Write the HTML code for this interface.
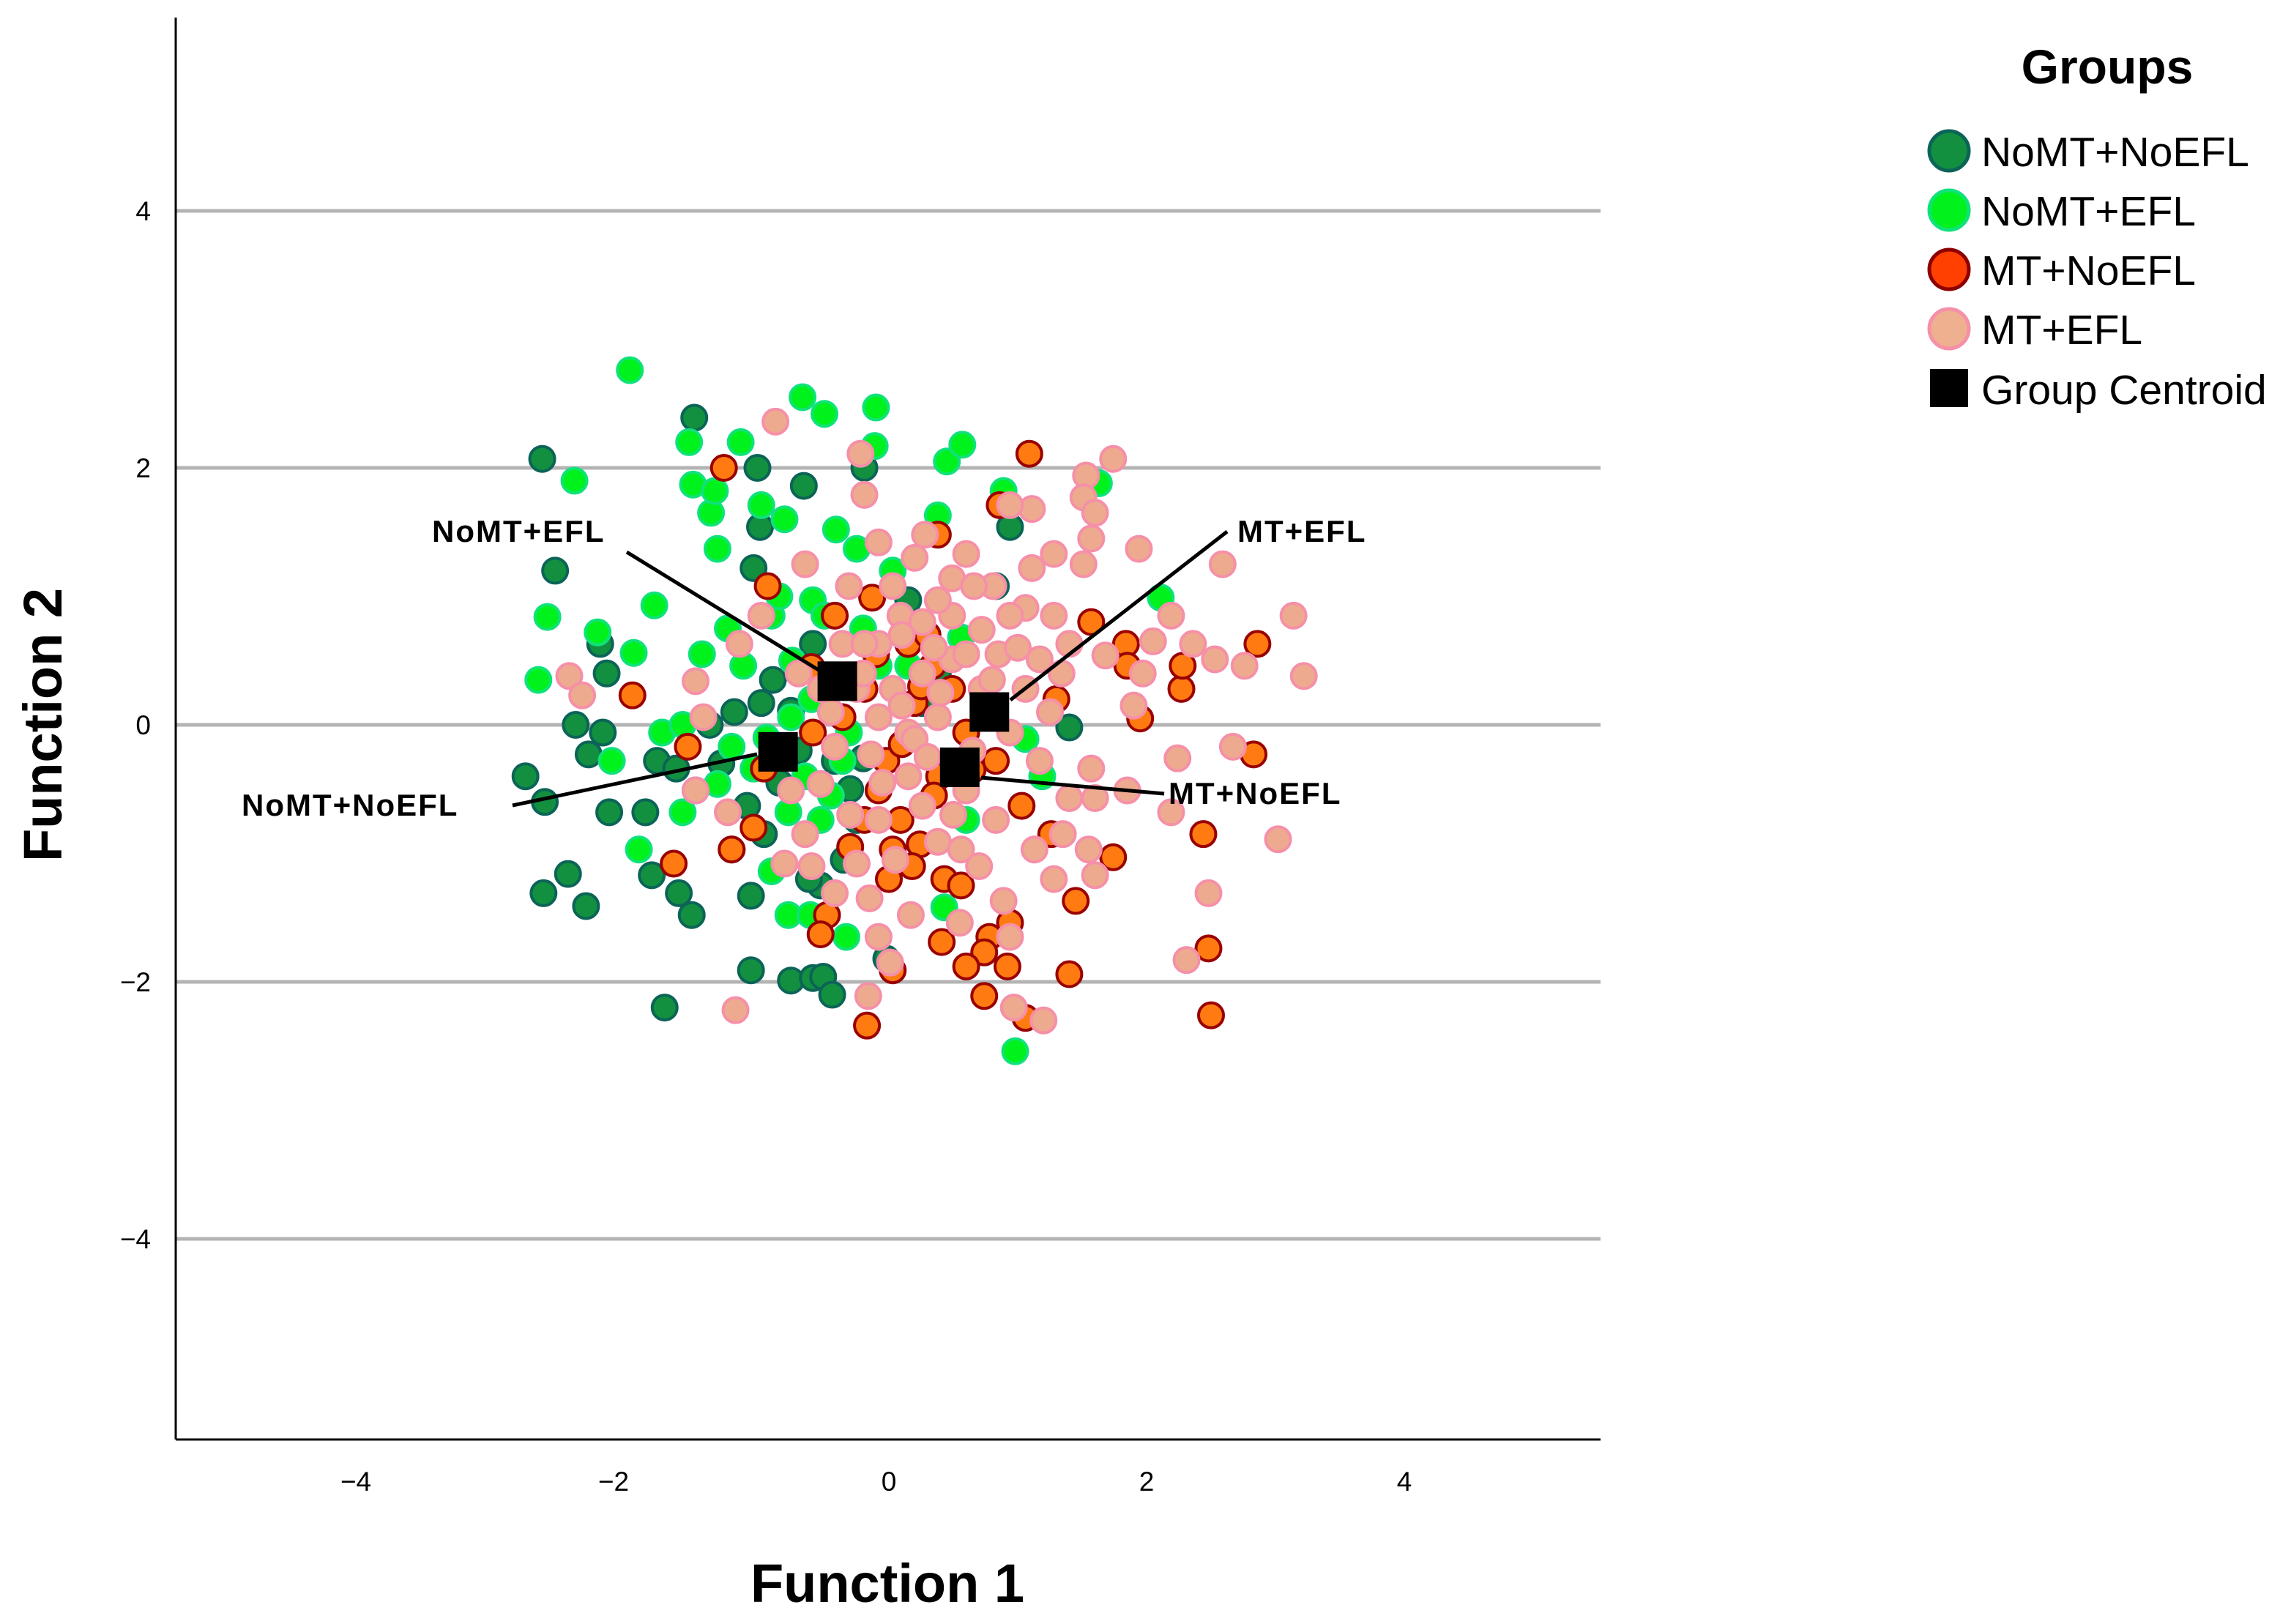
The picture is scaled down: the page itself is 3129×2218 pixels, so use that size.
<!DOCTYPE html>
<html><head><meta charset="utf-8"><style>
html,body{margin:0;padding:0;background:#fff;}
svg{display:block;}
text{font-family:"Liberation Sans",sans-serif;}
</style></head><body>
<svg id="chart" width="3129" height="2218" viewBox="0 0 3129 2218" xmlns="http://www.w3.org/2000/svg">
<g id="grid"></g>
<g id="axes">
<line x1="240" y1="24" x2="240" y2="1966" stroke="#000" stroke-width="3"/>
<line x1="240" y1="1966" x2="2186" y2="1966" stroke="#000" stroke-width="3"/>
</g>
<g id="ticks"></g>
<g id="points"></g>
<g id="annot">
<line x1="856" y1="754" x2="1126" y2="920" stroke="#000" stroke-width="5"/>
<line x1="1676" y1="726" x2="1380" y2="956" stroke="#000" stroke-width="5"/>
<line x1="700" y1="1100" x2="1034" y2="1030" stroke="#000" stroke-width="5"/>
<line x1="1340" y1="1062" x2="1590" y2="1084" stroke="#000" stroke-width="5"/>
</g>
<g id="centroids"></g>
<g font-weight="bold" font-size="42" letter-spacing="2">
<text x="590" y="740">NoMT+EFL</text>
<text x="1690" y="740">MT+EFL</text>
<text x="330" y="1114">NoMT+NoEFL</text>
<text x="1596" y="1098">MT+NoEFL</text>
</g>
<text x="1212" y="2188" font-size="74" font-weight="bold" text-anchor="middle">Function 1</text>
<text x="0" y="0" font-size="74" font-weight="bold" text-anchor="middle" transform="translate(84,990) rotate(-90)">Function 2</text>
<g>
<text x="2878" y="114" font-size="66" font-weight="bold" text-anchor="middle">Groups</text>
<g><circle cx="2662" cy="206" r="27" fill="#12903f" stroke="#0b6457" stroke-width="5"/><text x="2706" y="227" font-size="57">NoMT+NoEFL</text></g>
<g><circle cx="2662" cy="287" r="27" fill="#00f21c" stroke="#10e27a" stroke-width="5"/><text x="2706" y="308" font-size="57">NoMT+EFL</text></g>
<g><circle cx="2662" cy="368" r="27" fill="#ff4000" stroke="#8c0000" stroke-width="5"/><text x="2706" y="389" font-size="57">MT+NoEFL</text></g>
<g><circle cx="2662" cy="449" r="27" fill="#eeb08e" stroke="#f590a8" stroke-width="5"/><text x="2706" y="470" font-size="57">MT+EFL</text></g>
<g><rect x="2636" y="504" width="52" height="52" fill="#000"/><text x="2706" y="552" font-size="57">Group Centroid</text></g>
</g>
</svg>
<script>
const yTicks = [4, 2, 0, -2, -4];
const xTicks = [-4, -2, 0, 2, 4];
const groupNames = ["NoMT+NoEFL", "NoMT+EFL", "MT+NoEFL", "MT+EFL"];
const g1 = [[-2.69,2.07],[-2.59,1.2],[-1.51,2.39],[-1.02,2.0],[-0.66,1.86],[-0.19,2.0],[-1.0,1.54],[-1.05,1.22],[-2.24,0.63],[-2.19,0.4],[-2.43,0],[-2.33,-0.23],[-2.22,-0.06],[-2.82,-0.4],[-2.67,-0.6],[-2.17,-0.68],[-1.89,-0.68],[-1.8,-0.28],[-1.65,-0.34],[-2.68,-1.31],[-2.49,-1.16],[-2.35,-1.41],[-1.84,-1.17],[-1.63,-1.31],[-1.53,-1.48],[-1.74,-2.2],[-1.22,-0.97],[-1.07,-1.33],[-1.07,-1.91],[-0.76,-1.99],[-0.59,-1.97],[-0.51,-1.96],[-0.44,-2.1],[-0.02,-1.82],[-0.53,-1.25],[-0.97,-0.85],[-0.99,0.17],[-0.76,0.11],[-0.59,0.63],[-1.39,0],[0.94,1.54],[1.4,-0.02],[0.26,0.17],[-0.2,-0.26],[0.38,0.4],[-0.42,-0.28],[-0.25,-0.74],[-1.5,-0.51],[-1.1,-0.63],[0.15,0.97],[0.83,1.08],[-1.3,-0.3],[-1.2,0.1],[-0.85,-0.45],[-0.7,-0.2],[-0.9,0.35],[-0.3,-0.5],[-0.62,-1.2],[-0.35,-1.05]];
const g2 = [[-2.01,2.76],[-2.44,1.9],[-2.65,0.84],[-2.72,0.35],[-2.26,0.72],[-1.98,0.56],[-1.82,0.93],[-1.55,2.2],[-1.52,1.87],[-1.38,1.65],[-1.35,1.82],[-1.33,1.37],[-1.15,2.2],[-0.99,1.71],[-0.81,1.6],[-0.91,0.85],[-0.67,2.55],[-0.5,2.42],[-0.1,2.47],[-0.11,2.17],[0.45,2.05],[0.57,2.18],[0.38,1.63],[0.89,1.82],[1.63,1.88],[2.11,0.99],[-0.41,1.52],[-0.25,1.37],[0.03,1.2],[-2.15,-0.28],[-1.76,-0.06],[-1.94,-0.97],[-1.6,-0.68],[-1.33,-0.46],[-1.22,-0.17],[-1.05,-0.34],[-0.76,0.06],[-0.78,-0.68],[-0.91,-1.14],[-0.78,-1.48],[-0.61,-1.48],[-0.33,-1.65],[0.43,-1.42],[0.6,-0.74],[0.98,-2.54],[1.19,-0.4],[0.15,0.46],[-0.31,-0.06],[-0.08,0.46],[0.56,0.68],[1.06,-0.11],[-0.53,-0.74],[-1.13,0.46],[-0.59,0.97],[-0.36,-0.28],[-1.45,0.55],[-1.25,0.75],[-0.75,0.5],[-0.6,0.2],[-0.95,-0.1],[-0.65,-0.4],[-0.45,-0.55],[-0.2,0.75],[-1.6,0.0],[-0.85,1.0],[-0.5,0.85]];
const g3 = [[-1.28,2.0],[1.09,2.11],[0.86,1.71],[-0.94,1.08],[-1.99,0.23],[-1.56,-0.17],[-1.67,-1.08],[-1.22,-0.97],[-1.05,-0.8],[-0.97,-0.34],[-0.42,0.85],[-0.13,0.99],[0.38,1.48],[0.15,0.63],[0.34,0.46],[1.57,0.8],[1.84,0.63],[1.85,0.46],[2.27,0.28],[2.28,0.46],[2.86,0.63],[2.83,-0.23],[2.44,-0.85],[2.48,-1.74],[2.5,-2.26],[1.74,-1.03],[1.45,-1.37],[1.26,-0.85],[1.03,-0.63],[0.83,-0.28],[0.94,-1.54],[0.78,-1.65],[0.74,-1.77],[0.6,-1.88],[0.74,-2.11],[0.92,-1.88],[1.06,-2.28],[1.4,-1.94],[0.41,-1.69],[0.03,-1.91],[-0.17,-2.34],[-0.48,-1.48],[-0.53,-1.63],[0,-1.2],[0.24,-0.93],[0.09,-0.74],[-0.08,-0.51],[0.43,-1.2],[0.56,-1.25],[0.39,-0.4],[0.6,-0.06],[-0.59,-0.06],[-0.36,0.06],[-0.19,0.28],[0.2,0.17],[0.49,0.28],[-0.19,-0.74],[0.03,-0.97],[-0.02,-0.28],[-0.35,0.35],[-0.1,0.55],[0.25,0.3],[0.1,-0.15],[0.35,-0.55],[0.65,-0.35],[-0.3,-0.95],[0.18,-1.1],[0.3,0.7],[-0.6,0.45],[1.3,0.2],[1.95,0.05]];
const g4 = [[-0.88,2.36],[-0.22,2.11],[1.74,2.07],[1.53,1.94],[1.51,1.77],[1.6,1.65],[1.11,1.68],[0.94,1.71],[1.57,1.45],[1.51,1.25],[1.28,1.33],[1.11,1.22],[1.94,1.37],[2.59,1.25],[-0.19,1.79],[-0.08,1.42],[0.28,1.48],[0.6,1.33],[0.81,1.08],[0.49,1.14],[1.06,0.91],[1.28,0.85],[1.4,0.63],[1.68,0.54],[1.97,0.4],[2.19,0.85],[2.36,0.63],[2.53,0.51],[2.76,0.46],[3.14,0.85],[3.22,0.38],[2.67,-0.17],[2.24,-0.26],[2.19,-0.68],[1.85,-0.51],[1.57,-0.34],[1.6,-0.57],[1.55,-0.97],[1.6,-1.17],[1.28,-1.2],[1.13,-0.97],[0.89,-1.37],[0.94,-1.65],[0.97,-2.2],[1.2,-2.3],[2.48,-1.31],[2.31,-1.83],[3.02,-0.89],[0.38,-0.91],[0.56,-0.97],[0.17,-1.48],[-0.08,-1.65],[0.01,-1.85],[-0.16,-2.11],[-1.19,-2.22],[-0.53,-0.46],[-0.65,-0.85],[-0.81,-1.08],[-1.25,-0.68],[-1.5,-0.51],[-2.48,0.38],[-2.38,0.23],[-1.5,0.34],[-1.44,0.06],[-1.16,0.63],[-0.99,0.85],[-0.65,1.25],[-0.31,1.08],[-0.36,0.63],[-0.08,0.63],[0.09,0.85],[0.26,0.8],[0.49,0.85],[0.72,0.74],[0.94,0.85],[1.17,0.51],[1.34,0.4],[1.06,0.28],[0.38,0.06],[0.15,-0.06],[-0.08,0.06],[-0.25,0.28],[0.03,0.28],[0.26,0.4],[0.49,0.51],[0.72,0.28],[0.94,-0.06],[1.17,-0.28],[1.4,-0.57],[0.15,-0.4],[0.26,-0.63],[-0.08,-0.74],[-0.25,-1.08],[-0.42,-0.17],[-0.14,-0.23],[0.2,-0.11],[0.6,-0.51],[0.83,-0.74],[0.55,-1.54],[-0.42,-1.31],[-0.76,-0.51],[-0.19,0.63],[0.03,1.08],[-0.53,0.28],[-0.7,0.4],[0.66,1.08],[0.38,0.97],[-0.2,0.4],[0.1,0.15],[0.4,0.25],[0.6,0.55],[0.85,0.55],[-0.05,-0.45],[0.3,-0.25],[0.5,-0.7],[0.7,-1.1],[-0.3,-0.7],[0.1,0.7],[0.35,0.6],[-0.45,0.1],[0.8,0.35],[1.0,0.6],[1.25,0.1],[0.05,-1.05],[-0.6,-1.1],[0.2,1.3],[1.35,-0.85],[0.65,-0.2],[-0.15,-1.35],[1.9,0.15],[2.05,0.65]];
const centroidX = [-0.86, -0.4, 0.55, 0.78];
const centroidY = [-0.21, 0.34, -0.33, 0.1];

const NS = "http://www.w3.org/2000/svg";
const sx = v => 1214 + v * 176;
const sy = v => 990 - v * 175.5;
function mk(tag, attrs, parent){const e=document.createElementNS(NS,tag);for(const k in attrs)e.setAttribute(k,attrs[k]);parent.appendChild(e);return e;}
const grid=document.getElementById('grid'), ticks=document.getElementById('ticks'), pts=document.getElementById('points'), cents=document.getElementById('centroids');
yTicks.forEach(t=>{
  const l=mk('line',{x1:240,x2:2186,y1:sy(t),y2:sy(t),stroke:'#b4b4b4','stroke-width':5},grid);
  
  
  const tx=mk('text',{x:206,y:sy(t)+13,'font-size':37,'text-anchor':'end'},ticks);
  tx.textContent=t<0?'\u2212'+Math.abs(t):String(t);
  
  
});
xTicks.forEach(t=>{
  const tx=mk('text',{x:sx(t)-(t<0?24:0),y:2036,'font-size':37,'text-anchor':'middle'},ticks);
  tx.textContent=t<0?'\u2212'+Math.abs(t):String(t);
  
  
});
const styles=[['#12903f','#0b6457'],['#00f21c','#10e27a'],['#ff7a10','#9a0000'],['#eeaa8e','#f590a8']];
[g1,g2,g3,g4].forEach((g,i)=>{
  g.forEach(p=>{
    const c=mk('circle',{cx:sx(p[0]),cy:sy(p[1]),r:17,fill:styles[i][0],stroke:styles[i][1],'stroke-width':4},pts);
    
    
  });
});
centroidX.forEach((x,i)=>{
  const r=mk('rect',{x:sx(x)-27,y:sy(centroidY[i])-27,width:54,height:54,fill:'#000'},cents);
  
  
});
</script>
</body></html>
